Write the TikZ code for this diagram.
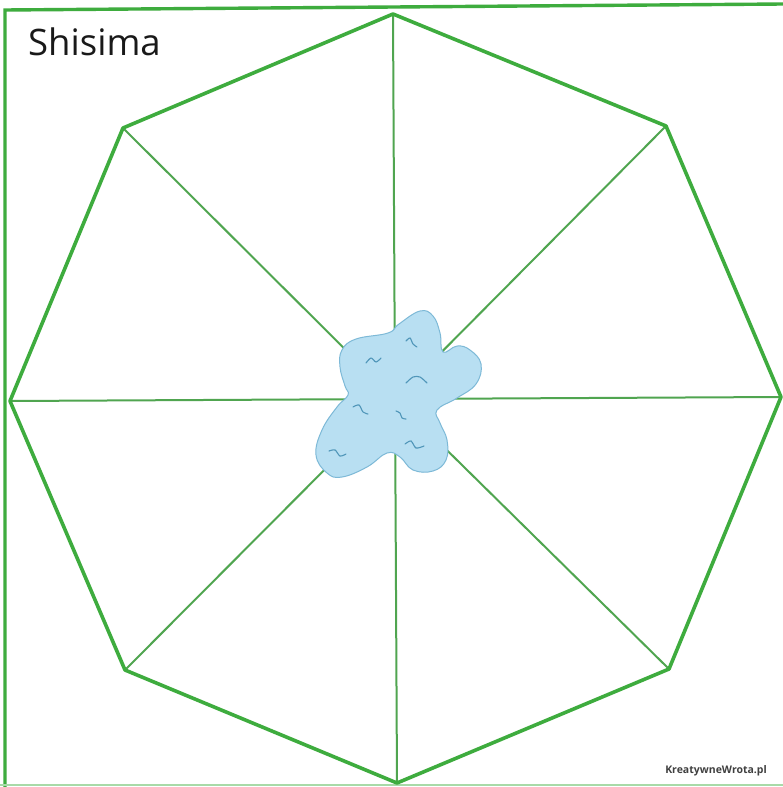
\documentclass[tikz,border=0pt]{standalone}
\usepackage{fontspec}
\setmainfont{Open Sans}
\begin{document}
\begin{tikzpicture}[x=1pt,y=-1pt,
  edge/.style={draw=boardgreen,line width=3.6pt,line join=round},
  spoke/.style={draw=spokegreen,line width=2pt},
  frame/.style={draw=boardgreen,line width=3.4pt},
  pond/.style={fill=pondblue,draw=pondedge,line width=1pt},
  wave/.style={draw=wavecol,line width=1.1pt,line cap=round}]
\definecolor{boardgreen}{RGB}{62,172,62}
\definecolor{spokegreen}{RGB}{80,165,80}
\definecolor{pondblue}{RGB}{184,223,242}
\definecolor{pondedge}{RGB}{125,185,215}
\definecolor{wavecol}{RGB}{80,150,185}
\useasboundingbox (0,0) rectangle (783,787);
\fill[white] (0,0) rectangle (783,787);
% frame
\coordinate (fbl) at (5,787);
\coordinate (ftl) at (5,10);
\coordinate (ftr) at (783,4);
\draw[frame] (fbl) -- (ftl) -- (ftr);
\coordinate (bl) at (0,785);
\coordinate (br) at (783,785);
\draw[draw=boardgreen!45,line width=1.8pt] (bl) -- (br);
% octagon
\coordinate (vt) at (393,14);
\coordinate (vtr) at (666,126);
\coordinate (vr) at (781,397);
\coordinate (vbr) at (669,669);
\coordinate (vb) at (397,783);
\coordinate (vbl) at (125,670);
\coordinate (vl) at (10,401);
\coordinate (vtl) at (123,128);
\coordinate (c) at (395,399);
\foreach \v in {vt,vtr,vr,vbr,vb,vbl,vl,vtl}
  \draw[spoke] (c) -- (\v);
\draw[edge] (vt) -- (vtr) -- (vr) -- (vbr) -- (vb) -- (vbl) -- (vl) -- (vtl) -- cycle;
% pond
\path[pond] plot[smooth cycle,tension=0.7] coordinates {
 (420,311) (399,324) (388,333) (356,339) (342,350) (340,367) (345,386) (348,395)
 (337,407) (322,430) (316,455) (327,473) (342,477) (367,467) (387,453)
 (400,457) (413,470) (433,471) (446,460) (447,440) (440,423) (437,410)
 (457,398) (476,384) (481,364) (470,350) (457,346) (443,352) (440,333)
 (433,316)};
% waves
\draw[wave] plot[smooth] coordinates {(406,341) (410,338) (413,344) (417,347)};
\draw[wave] plot[smooth] coordinates {(366,363) (371,358) (376,362) (381,358)};
\draw[wave] plot[smooth] coordinates {(406,383) (413,377) (420,377) (427,383)};
\draw[wave] plot[smooth] coordinates {(353,407) (359,405) (363,412) (368,414)};
\draw[wave] plot[smooth] coordinates {(396,411) (400,413) (402,418) (406,419)};
\draw[wave] plot[smooth] coordinates {(405,444) (411,441) (416,448) (424,446)};
\draw[wave] plot[smooth] coordinates {(329,451) (335,450) (340,456) (346,454)};
% texts
\node[anchor=base west,inner sep=0pt,font=\fontsize{36.5}{40}\selectfont,text=black!90] (title) at (28,55) {Shisima};
\node[anchor=base east,inner sep=0pt,font=\fontsize{10.5}{12}\selectfont\bfseries,text=black!75] (credit) at (767,773) {KreatywneWrota.pl};
\end{tikzpicture}
\end{document}
